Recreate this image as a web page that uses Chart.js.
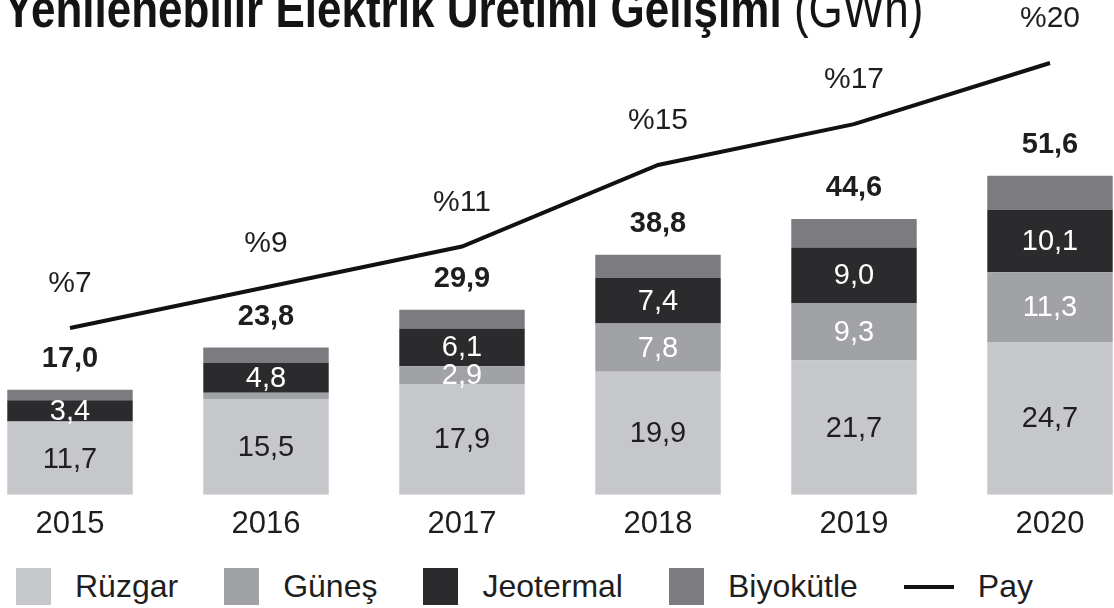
<!DOCTYPE html>
<html lang="tr">
<head>
<meta charset="utf-8">
<title>Yenilenebilir Elektrik Üretimi Gelişimi</title>
<script src="https://cdn.jsdelivr.net/npm/chart.js@4.4.1/dist/chart.umd.min.js"></script>
<style>
  html, body { margin: 0; padding: 0; background: #fff; overflow: hidden; }
  #page { position: relative; width: 1114px; height: 608px; overflow: hidden; font-family: 'Liberation Sans', Arial, sans-serif; color: #1e1e1e; }
  #baslik {
    position: absolute; left: 4px; top: -10px; white-space: nowrap;
    font-size: 44px; line-height: 1; color: #141414; font-weight: bold; z-index: 2;
    transform: scaleY(1.2); transform-origin: 0 38px;
  }
  #baslik span { font-weight: normal; }
  #kutu { position: absolute; left: -28px; top: 0; width: 1176px; height: 554px; }
  #lejant { position: absolute; left: 16px; top: 568px; height: 37px; display: flex; align-items: center; font-size: 32px; white-space: nowrap; }
  #lejant .oge { display: flex; align-items: center; margin-right: 46px; }
  #lejant .kare { width: 35px; height: 37px; margin-right: 24px; }
  #lejant .cizgi { width: 50px; height: 4px; margin-right: 24px; }
</style>
</head>
<body>
<div id="page">
  <div id="baslik">Yenilenebilir Elektrik Üretimi Gelişimi <span>(GWh)</span></div>
  <div id="kutu"><canvas id="grafik"></canvas></div>
  <div id="lejant"></div>
</div>
<script>
const yillar = ['2015', '2016', '2017', '2018', '2019', '2020'];
const ruzgar = [11.7, 15.5, 17.9, 19.9, 21.7, 24.7];
const gunes = [0.2, 1.0, 2.9, 7.8, 9.3, 11.3];
const jeotermal = [3.4, 4.8, 6.1, 7.4, 9.0, 10.1];
const biyokutle = [1.7, 2.5, 3.0, 3.7, 4.6, 5.5];
const toplam = [17.0, 23.8, 29.9, 38.8, 44.6, 51.6];
const pay = [7, 9, 11, 15, 17, 20];

Chart.defaults.font.family = "'Liberation Sans', Arial, sans-serif";
Chart.defaults.color = '#1e1e1e';

function virgul(v) {
  return v.toFixed(1).replace('.', ',');
}

// segment, toplam ve pay etiketleri
const etiketler = {
  id: 'etiketler',
  afterDatasetsDraw(chart) {
    const ctx = chart.ctx;
    ctx.save();
    ctx.textAlign = 'center';
    ctx.textBaseline = 'middle';
    const renk = ['#1e1e1e', '#ffffff', '#ffffff', null];
    const en = [0, 2, 0, 0];
    for (let d = 0; d < 4; d++) {
      if (!renk[d]) continue;
      const meta = chart.getDatasetMeta(d);
      meta.data.forEach((el, i) => {
        const v = chart.data.datasets[d].data[i];
        if (v < en[d]) return;
        ctx.fillStyle = renk[d];
        ctx.font = "29px 'Liberation Sans', Arial, sans-serif";
        ctx.fillText(virgul(v), el.x, (el.y + el.base) / 2 + 1);
      });
    }
    const ust = chart.getDatasetMeta(3);
    ust.data.forEach((el, i) => {
      ctx.fillStyle = '#1e1e1e';
      ctx.font = "bold 29px 'Liberation Sans', Arial, sans-serif";
      ctx.fillText(virgul(toplam[i]), el.x, el.y - 31);
    });
    const cizgi = chart.getDatasetMeta(4);
    cizgi.data.forEach((pt, i) => {
      ctx.fillStyle = '#1e1e1e';
      ctx.font = "30px 'Liberation Sans', Arial, sans-serif";
      ctx.fillText('%' + pay[i], pt.x, pt.y - 44);
    });
    ctx.restore();
  }
};

const cubuk = { stack: 'gwh', yAxisID: 'y', borderWidth: 0, barPercentage: 0.64, categoryPercentage: 1 };

const grafik = new Chart(document.getElementById('grafik'), {
  type: 'bar',
  data: {
    labels: yillar,
    datasets: [
      Object.assign({ label: 'Rüzgar', data: ruzgar, backgroundColor: '#c6c7cb' }, cubuk),
      Object.assign({ label: 'Güneş', data: gunes, backgroundColor: '#a1a2a6' }, cubuk),
      Object.assign({ label: 'Jeotermal', data: jeotermal, backgroundColor: '#2b2b2d' }, cubuk),
      Object.assign({ label: 'Biyokütle', data: biyokutle, backgroundColor: '#7c7c80' }, cubuk),
      {
        type: 'line',
        label: 'Pay',
        data: pay,
        yAxisID: 'y2',
        borderColor: '#111111',
        backgroundColor: '#111111',
        borderWidth: 4,
        pointRadius: 0,
        tension: 0,
        fill: false
      }
    ]
  },
  options: {
    responsive: true,
    maintainAspectRatio: false,
    animation: false,
    layout: { padding: 0 },
    scales: {
      x: {
        stacked: true,
        grid: { display: false, drawTicks: false },
        border: { display: false },
        ticks: { color: '#1e1e1e', font: { size: 31 }, padding: 11 }
      },
      y: {
        stacked: true,
        display: false,
        min: 0,
        max: 80
      },
      y2: {
        display: false,
        min: -1.18,
        max: 23.09
      }
    },
    plugins: {
      legend: { display: false },
      tooltip: { enabled: false }
    }
  },
  plugins: [etiketler]
});

// lejant, veri setlerinden
const lejant = document.getElementById('lejant');
grafik.data.datasets.forEach(ds => {
  const oge = document.createElement('div');
  oge.className = 'oge';
  const isaret = document.createElement('div');
  isaret.className = ds.type === 'line' ? 'cizgi' : 'kare';
  isaret.style.background = ds.type === 'line' ? ds.borderColor : ds.backgroundColor;
  const yazi = document.createElement('span');
  yazi.textContent = ds.label;
  oge.appendChild(isaret);
  oge.appendChild(yazi);
  lejant.appendChild(oge);
});
</script>
</body>
</html>
